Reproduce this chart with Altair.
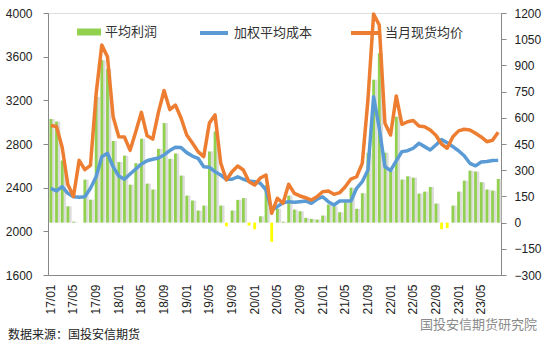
import altair as alt
import pandas as pd

months = [f"{y:02d}/{m:02d}" for y in range(17, 24) for m in range(1, 13)][:80]
tick_labels = ["17/01", "17/05", "17/09", "18/01", "18/05", "18/09", "19/01", "19/05",
               "19/09", "20/01", "20/05", "20/09", "21/01", "21/05", "21/09", "22/01",
               "22/05", "22/09", "23/01", "23/05"]

profit = [593, 578, 355, 93, 5, 0, 246, 131, 720, 930,
          880, 467, 347, 383, 217, 340, 480, 223, 189, 422,
          570, 365, 395, 269, 154, 126, 69, 97, 407, 522,
          97, -21, 69, 130, 140, -17, -38, 36, 215, -110,
          80, 5, 154, 74, 65, 27, 21, 17, 40, 103,
          93, 59, 116, 200, 79, 168, 400, 818, 970, 400,
          300, 606, 246, 265, 257, 166, 177, 204, 109, -38,
          -32, 97, 177, 240, 297, 292, 231, 189, 183, 250]

cost = [2394, 2370, 2409, 2348, 2317, 2312, 2317, 2394, 2500, 2684,
        2715, 2592, 2507, 2477, 2525, 2571, 2617, 2647, 2660, 2672,
        2700, 2740, 2770, 2767, 2721, 2690, 2669, 2592, 2587, 2546,
        2516, 2477, 2477, 2500, 2477, 2461, 2455, 2440, 2379, 2195,
        2226, 2262, 2272, 2266, 2272, 2278, 2257, 2294, 2317, 2272,
        2241, 2278, 2278, 2278, 2394, 2455, 2562, 3233, 2944, 2592,
        2558, 2645, 2730, 2739, 2761, 2806, 2776, 2745, 2791, 2840,
        2812, 2776, 2738, 2692, 2623, 2600, 2635, 2640, 2648, 2650]

price = [2970, 2960, 2770, 2430, 2320, 2650, 2565, 2605, 3260, 3707,
         3600, 3050, 2867, 2864, 2742, 2913, 3090, 2875, 2845, 3090,
         3290, 3115, 3157, 3038, 2882, 2809, 2730, 2684, 2992, 3066,
         2626, 2470, 2546, 2598, 2562, 2455, 2424, 2489, 2516, 2165,
         2303, 2257, 2431, 2348, 2324, 2308, 2287, 2317, 2363, 2369,
         2339, 2354, 2409, 2479, 2500, 2623, 3203, 3990, 3890, 2990,
         2882, 3240, 2980, 3004, 3015, 2965, 2959, 2928, 2880, 2800,
         2761, 2867, 2920, 2935, 2928, 2898, 2865, 2821, 2834, 2908]

left_ticks = [1600, 2000, 2400, 2800, 3200, 3600, 4000]
right_ticks = [-300, -150, 0, 150, 300, 450, 600, 750, 900, 1050, 1200]

series_names = ["平均利润", "加权平均成本", "当月现货均价"]
source_text = "数据来源：国投安信期货"
watermark = "国投安信期货研究院"

FONT = "Liberation Sans, Noto Sans CJK SC, sans-serif"
CJK = "Noto Sans CJK SC, sans-serif"

df = pd.DataFrame({"month": months, "profit": profit, "cost": cost, "price": price})

xenc = alt.X("month:N", sort=months, title=None,
             scale=alt.Scale(paddingInner=0, paddingOuter=0),
             axis=alt.Axis(values=tick_labels, labelAngle=270, labelAlign="right",
                           labelBaseline="middle", ticks=False, labelPadding=9,
                           domainColor="#888888", labelColor="#222222",
                           labelFont=FONT, labelFontSize=12))

base = alt.Chart(df).encode(x=xenc)

yright = alt.Y("profit:Q", title=None,
               scale=alt.Scale(domain=[-300, 1200], nice=False, zero=True),
               axis=alt.Axis(orient="right", values=right_ticks, grid=False, format="d",
                             tickSize=5, labelPadding=8, domainColor="#888888",
                             tickColor="#888888", labelColor="#222222",
                             labelFont=FONT, labelFontSize=12))

shadow = base.transform_filter("datum.profit > 0").mark_bar(
    size=4, xOffset=1.8, color="#bfbfbf", opacity=0.55).encode(y=yright)

pos_bars = base.transform_filter("datum.profit > 0").transform_calculate(
    s=f"'{series_names[0]}'").mark_bar(size=2.8).encode(
    y=yright,
    color=alt.Color("s:N",
                    scale=alt.Scale(domain=[series_names[0]], range=["#92D050"]),
                    legend=alt.Legend(orient="none", legendX=29, legendY=7, title=None,
                                      symbolType="M-1,-0.29H1V0.29H-1Z", symbolSize=576,
                                      symbolStrokeWidth=0, labelFont=CJK, labelFontSize=13,
                                      labelColor="#333333", labelOffset=4, padding=0)))

neg_bars = base.transform_filter("datum.profit < 0").mark_bar(
    size=2.8, color="#FFFF00").encode(y=yright)

bars = alt.layer(shadow, pos_bars, neg_bars)

yleft_axis = alt.Axis(orient="left", values=left_ticks, grid=False, tickSize=5, format="d",
                      labelPadding=11, domainColor="#888888", tickColor="#888888",
                      labelColor="#222222", labelFont=FONT, labelFontSize=12)
yleft_scale = alt.Scale(domain=[1600, 4000], nice=False, zero=False)

stroke_scale = alt.Scale(domain=series_names[1:], range=["#5B9BD5", "#ED7D31"])
stroke_legend = alt.Legend(orient="none", legendX=150, legendY=4, title=None,
                           direction="horizontal", symbolType="stroke", symbolSize=784,
                           symbolStrokeWidth=4, columnPadding=30, labelFont=CJK,
                           labelFontSize=13, labelColor="#333333", labelOffset=4,
                           padding=0)

cost_line = base.transform_calculate(s=f"'{series_names[1]}'").mark_line(
    strokeWidth=3.5, strokeJoin="round").encode(
    y=alt.Y("cost:Q", title=None, scale=yleft_scale, axis=yleft_axis),
    stroke=alt.Stroke("s:N", scale=stroke_scale, legend=stroke_legend))

price_line = base.transform_calculate(s=f"'{series_names[2]}'").mark_line(
    strokeWidth=3.5, strokeJoin="round").encode(
    y=alt.Y("price:Q", title=None, scale=yleft_scale, axis=yleft_axis),
    stroke=alt.Stroke("s:N", scale=stroke_scale, legend=stroke_legend))

lines = alt.layer(cost_line, price_line)

src = alt.Chart(pd.DataFrame({"t": [source_text]})).mark_text(
    align="left", baseline="middle", font=CJK, fontSize=12, color="#222222").encode(
    x=alt.value(-40), y=alt.value(322), text="t:N")

wm = alt.Chart(pd.DataFrame({"t": [watermark]})).mark_text(
    align="left", baseline="middle", font=CJK, fontSize=13, color="#8a8a8a").encode(
    x=alt.value(372), y=alt.value(312), text="t:N")

chart = alt.layer(bars, lines, src, wm).resolve_scale(
    y="independent", color="independent", stroke="independent"
).properties(
    width=453, height=262,
    autosize=alt.AutoSizeParams(type="none"),
    padding={"left": 48, "top": 13, "right": 54, "bottom": 78},
).configure_view(stroke=None).configure(background="white")

chart.save("out.html", embed_options={"renderer": "svg", "actions": False})
